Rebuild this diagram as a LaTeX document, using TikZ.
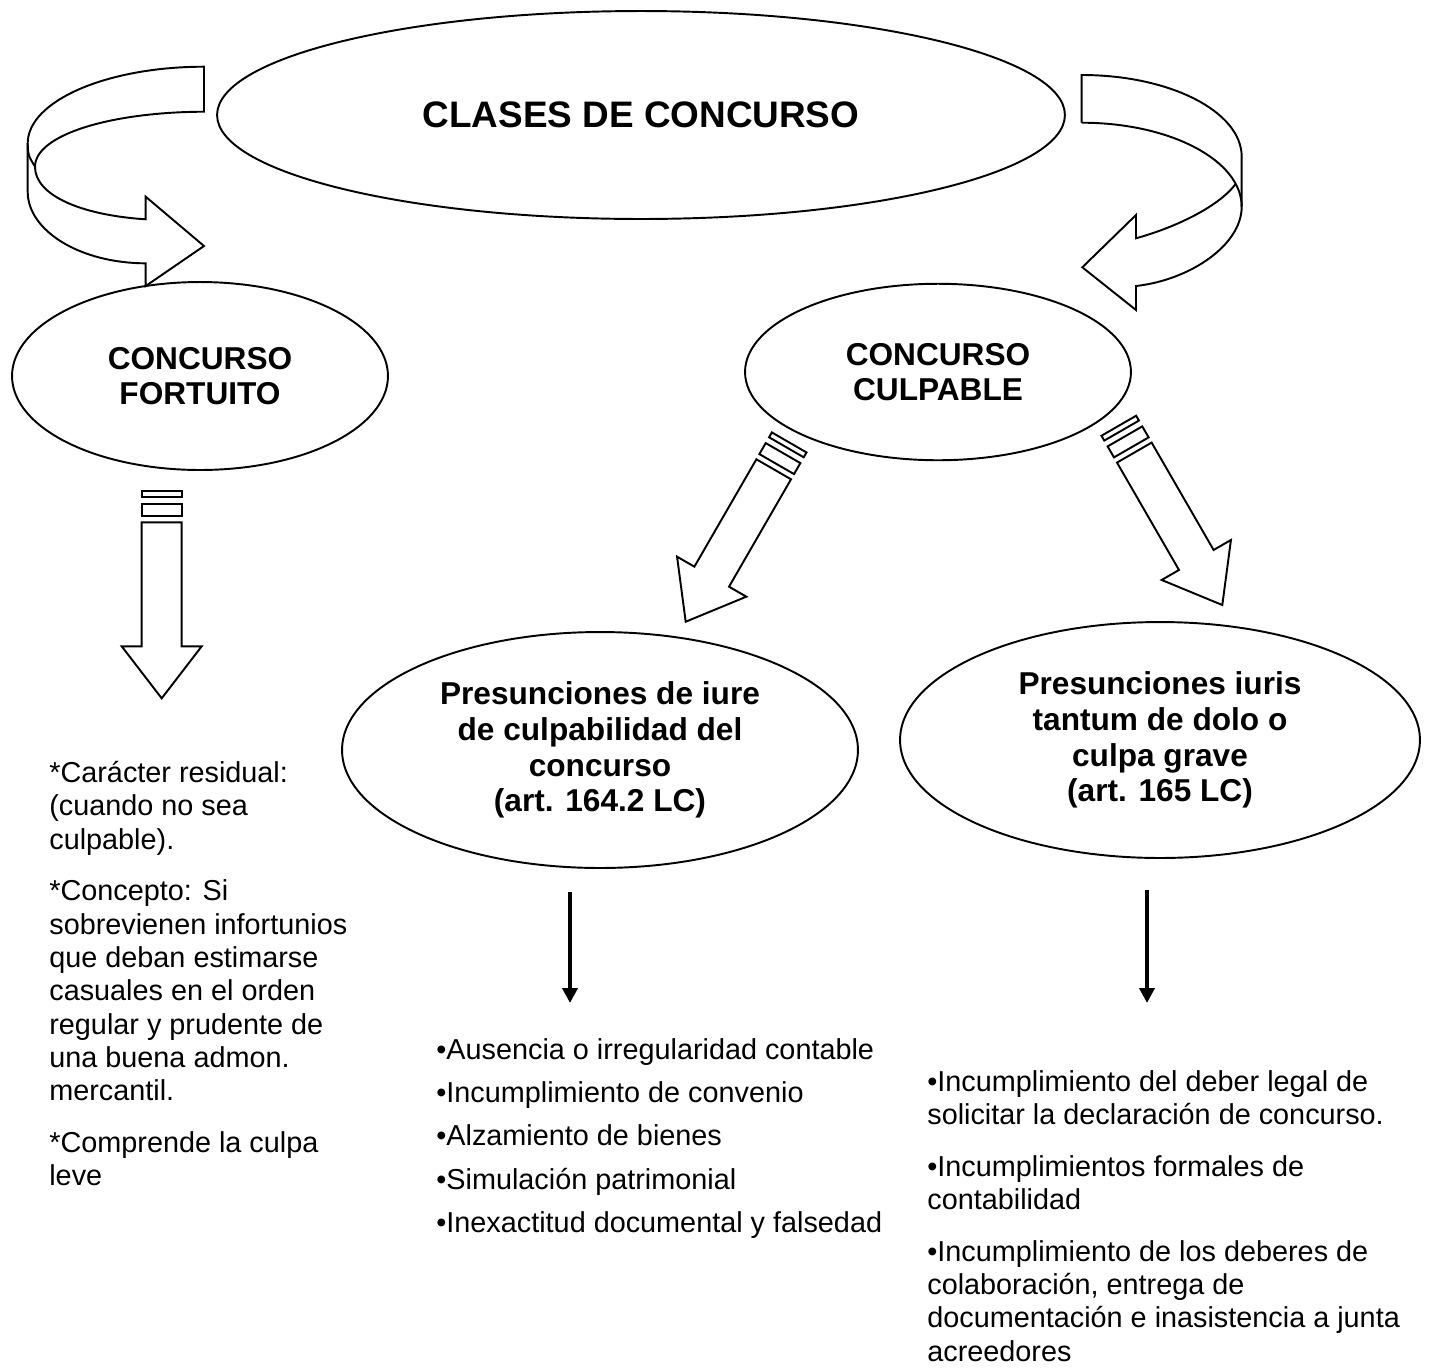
\documentclass[tikz,border=0pt]{standalone}
\usepackage{fontspec}
\setmainfont{Liberation Sans}
\usetikzlibrary{shapes.geometric,arrows.meta}
\tikzset{
  elip_n/.style = {ellipse, draw=black, line width=1.1pt, inner sep=0pt,
    align=center, font=\fontsize{18}{20.3}\selectfont\bfseries},% elipse, texto negrita
  elip_g/.style = {elip_n, minimum width=16.96cm, minimum height=4.16cm,
    font=\fontsize{21}{24}\selectfont\bfseries},% elipse grande, titulo
  lista_t/.style = {anchor=north west, inner sep=0pt, align=left,
    font=\fontsize{16.4}{18.95}\selectfont},% texto de las listas
  cinta/.style = {draw=black, line width=1.1pt},% contorno de flechas huecas
  flecha_f/.style = {line width=2.6pt,
    -{Triangle[width=0.3cm, length=0.3cm]}},% flecha fina
  flecha_r/.pic = {
    \draw[cinta] (0,0) -- (-40,-52) -- (-20,-52) -- (-20,-176)
      -- (20,-176) -- (20,-52) -- (40,-52) -- cycle;
    \draw[cinta] (-20,-182) rectangle (20,-194.7);
    \draw[cinta] (-20,-201.4) rectangle (20,-207);
  }% flecha rayada
}

\begin{document}
\begin{tikzpicture}[x=0.02cm, y=-0.02cm]
\useasboundingbox[fill=white] (0,0) rectangle (1431,1367);

\node [elip_g] (tit) at (641,115) {CLASES DE CONCURSO};
\node [elip_n, minimum width=7.52cm, minimum height=3.76cm] (fort) at (200,376)
  {CONCURSO\\FORTUITO};
\node [elip_n, minimum width=7.72cm, minimum height=3.53cm] (culp) at (938,372)
  {CONCURSO\\CULPABLE};
\node [elip_n, minimum width=10.32cm, minimum height=4.72cm] (iure) at (600,750)
  {Presunciones de iure\\de culpabilidad del\\concurso\\(art. 164.2 LC)};
\node [elip_n, minimum width=10.4cm, minimum height=4.72cm] (tant) at (1160,740)
  {Presunciones iuris\\tantum de dolo o\\culpa grave\\(art. 165 LC)};

% flechas curvas
\draw [cinta] (204,66.7) .. controls (106.8,66.7) and (27.7,101) .. (27.7,143.3)
  -- (27.7,191.7) .. controls (27.7,231) and (80.6,263.3) .. (145.7,263.3)
  -- (145.7,286) -- (204,246) -- (145.7,196.7) -- (145.7,219.3)
  .. controls (80,215) and (35,195) .. (35,166.7)
  .. controls (35,135) and (110,112) .. (204,111.7) -- cycle;
\draw [cinta] (27.7,143.3) .. controls (28,155) .. (35,166.7);
\draw [cinta] (1081.7,122.7) -- (1081.7,75)
  .. controls (1170,75) and (1241.7,111.6) .. (1241.7,156.7) -- (1241.7,206.7)
  .. controls (1241.7,245) and (1190,280) .. (1136,286) -- (1136,310)
  -- (1082.3,267.3) -- (1136,215) -- (1136,238.3)
  .. controls (1180,226) and (1220,205) .. (1235.7,183.9);
\draw [cinta] (1081.7,122.7) .. controls (1170,122.7) and (1241.7,160.3) .. (1241.7,206.7);

% flechas rayadas
\pic at (161.7,698.3) {flecha_r};
\pic [rotate=-30] at (685.7,621.7) {flecha_r};
\pic [rotate=30] at (1222.3,605) {flecha_r};

\coordinate (a_iure) at (570,892);
\coordinate (b_iure) at (570,1003);
\coordinate (a_tant) at (1147,890);
\coordinate (b_tant) at (1147,1003);
\draw [flecha_f] (a_iure) -- (b_iure);
\draw [flecha_f] (a_tant) -- (b_tant);

\node [lista_t] (t_fort) at (49,761) {*Carácter residual:\\(cuando no sea\\culpable).\\[0.368cm]%
  *Concepto: Si\\sobrevienen infortunios\\que deban estimarse\\casuales en el orden\\%
  regular y prudente de\\una buena admon.\\mercantil.\\[0.368cm]%
  *Comprende la culpa\\leve};
\node [lista_t] (t_iure) at (436,1038) {•Ausencia o irregularidad contable\\[0.2cm]%
  •Incumplimiento de convenio\\[0.2cm]•Alzamiento de bienes\\[0.2cm]%
  •Simulación patrimonial\\[0.2cm]•Inexactitud documental y falsedad};
\node [lista_t] (t_tant) at (927,1070) {•Incumplimiento del deber legal de\\%
  solicitar la declaración de concurso.\\[0.368cm]%
  •Incumplimientos formales de\\contabilidad\\[0.368cm]%
  •Incumplimiento de los deberes de\\colaboración, entrega de\\%
  documentación e inasistencia a junta\\acreedores};
\end{tikzpicture}
\end{document}
